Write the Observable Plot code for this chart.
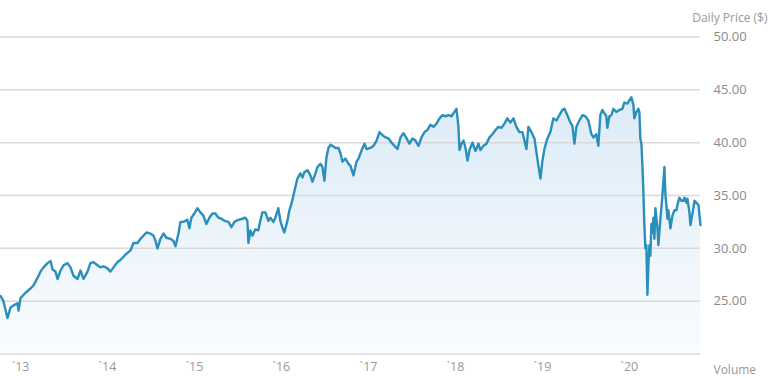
<!DOCTYPE html>
<html>
<head>
<meta charset="utf-8">
<script src="https://cdn.jsdelivr.net/npm/d3@7"></script>
<script src="https://cdn.jsdelivr.net/npm/@observablehq/plot@0.6"></script>
<style>
  html, body { margin: 0; padding: 0; background: #ffffff; }
  #chart { width: 773px; height: 381px; }
</style>
</head>
<body>
<div id="chart"></div>
<script>
// Decimal-year dates and daily prices
const years = [
  2012.770,2012.804,2012.850,2012.885,2012.919,2012.965,2012.977,2013.000,2013.057,2013.115,
  2013.149,2013.195,2013.230,2013.264,2013.310,2013.345,2013.368,2013.402,2013.425,2013.460,
  2013.494,2013.540,2013.575,2013.609,2013.655,2013.690,2013.724,2013.770,2013.804,2013.839,
  2013.885,2013.919,2013.954,2014.000,2014.034,2014.069,2014.115,2014.149,2014.207,2014.264,
  2014.299,2014.345,2014.379,2014.414,2014.448,2014.494,2014.529,2014.552,2014.575,2014.609,
  2014.644,2014.678,2014.724,2014.759,2014.782,2014.816,2014.839,2014.873,2014.919,2014.942,
  2014.965,2015.000,2015.034,2015.069,2015.103,2015.138,2015.172,2015.207,2015.241,2015.276,
  2015.310,2015.345,2015.391,2015.425,2015.460,2015.506,2015.552,2015.586,2015.609,2015.621,
  2015.644,2015.667,2015.701,2015.735,2015.758,2015.781,2015.816,2015.850,2015.873,2015.908,
  2015.931,2015.965,2015.988,2016.011,2016.034,2016.069,2016.092,2016.115,2016.138,2016.161,
  2016.184,2016.218,2016.241,2016.264,2016.299,2016.333,2016.356,2016.391,2016.414,2016.448,
  2016.471,2016.494,2016.517,2016.540,2016.563,2016.586,2016.621,2016.655,2016.678,2016.701,
  2016.735,2016.770,2016.793,2016.827,2016.862,2016.885,2016.931,2016.954,2016.977,2017.023,
  2017.057,2017.092,2017.126,2017.161,2017.195,2017.230,2017.264,2017.299,2017.333,2017.368,
  2017.402,2017.437,2017.471,2017.506,2017.540,2017.575,2017.609,2017.644,2017.678,2017.712,
  2017.747,2017.781,2017.816,2017.850,2017.885,2017.919,2017.954,2017.977,2018.011,2018.034,
  2018.046,2018.069,2018.092,2018.115,2018.138,2018.161,2018.195,2018.230,2018.264,2018.287,
  2018.322,2018.356,2018.391,2018.425,2018.460,2018.494,2018.529,2018.563,2018.597,2018.632,
  2018.666,2018.701,2018.735,2018.770,2018.816,2018.839,2018.873,2018.908,2018.931,2018.954,
  2018.977,2019.000,2019.023,2019.057,2019.092,2019.126,2019.161,2019.195,2019.230,2019.253,
  2019.287,2019.322,2019.345,2019.368,2019.391,2019.425,2019.460,2019.494,2019.529,2019.563,
  2019.586,2019.620,2019.643,2019.666,2019.689,2019.712,2019.735,2019.747,2019.770,2019.793,
  2019.816,2019.850,2019.885,2019.919,2019.942,2019.977,2020.000,2020.023,2020.046,2020.057,
  2020.080,2020.103,2020.115,2020.126,2020.138,2020.149,2020.161,2020.172,2020.184,2020.195,
  2020.207,2020.218,2020.230,2020.241,2020.253,2020.264,2020.276,2020.287,2020.299,2020.322,
  2020.333,2020.356,2020.379,2020.402,2020.414,2020.425,2020.437,2020.448,2020.471,2020.494,
  2020.517,2020.540,2020.551,2020.574,2020.597,2020.620,2020.632,2020.655,2020.666,2020.689,
  2020.701,2020.724,2020.747,2020.770,2020.793,2020.816
];
const prices = [
  25.5,25.0,23.4,24.4,24.6,24.8,24.1,25.3,25.8,26.2,
  26.5,27.2,27.8,28.2,28.6,28.8,28.0,27.8,27.1,27.9,
  28.4,28.6,28.2,27.4,27.1,27.9,27.1,27.8,28.6,28.7,
  28.4,28.2,28.3,28.1,27.8,28.2,28.7,28.9,29.4,29.8,
  30.5,30.5,30.9,31.2,31.5,31.4,31.2,30.7,30.0,30.9,
  31.4,31.0,30.9,30.7,30.2,31.4,32.5,32.5,32.7,31.9,
  32.9,33.3,33.8,33.4,33.1,32.3,32.9,33.3,33.3,32.9,
  32.8,32.6,32.5,32.0,32.5,32.7,32.8,32.9,32.6,30.5,
  31.7,31.2,31.8,31.7,32.6,33.4,33.4,32.6,32.9,32.5,
  32.9,33.8,32.6,32.0,31.5,32.6,33.6,34.2,35.0,35.8,
  36.6,37.1,36.7,37.2,37.4,36.9,36.3,37.1,37.7,38.0,
  37.7,36.4,38.6,39.5,39.8,39.7,39.5,39.5,39.0,38.2,
  38.5,38.0,37.8,36.9,38.2,38.5,39.5,39.9,39.4,39.5,
  39.7,40.2,41.0,40.7,40.5,40.4,40.0,39.7,39.4,40.5,
  40.9,40.4,39.9,40.4,40.2,39.7,40.5,41.0,41.2,41.7,
  41.5,41.8,42.3,42.6,42.5,42.6,42.5,42.8,43.2,41.5,
  39.3,39.9,40.2,39.5,38.3,39.3,40.0,39.2,39.9,39.3,
  39.7,39.9,40.5,40.8,41.2,41.5,41.4,41.8,42.3,41.9,
  42.3,41.5,41.0,41.0,39.4,41.5,41.0,40.4,39.1,37.8,
  36.6,38.3,39.4,40.4,41.0,42.3,42.1,42.6,43.1,43.2,
  42.6,41.9,41.6,39.9,41.5,42.1,42.6,42.5,42.1,40.8,
  40.5,40.8,39.7,42.6,43.1,42.8,42.5,41.4,42.5,42.6,
  43.2,42.9,43.1,43.2,43.8,43.7,44.0,44.3,43.6,42.3,
  42.9,43.2,42.9,40.4,39.9,38.0,35.3,32.2,30.0,30.3,
  25.6,28.4,30.3,29.3,32.3,31.5,32.9,30.9,33.8,31.9,
  30.3,32.8,35.0,37.7,35.0,34.1,32.8,33.6,31.9,33.1,
  33.6,33.6,34.1,34.8,34.5,34.5,34.8,34.3,34.7,33.4,
  32.2,33.3,34.5,34.3,34.1,32.2
];
const yearTicks = [2013, 2014, 2015, 2016, 2017, 2018, 2019, 2020];
const priceTicks = [25, 30, 35, 40, 45, 50];
const gridValues = [20, 25, 30, 35, 40, 45, 50];
const priceDomain = [20, 50];
const dateDomain = [2012.770, 2020.816];

const toDate = (y) => {
  const yr = Math.floor(y);
  const start = Date.UTC(yr, 0, 1);
  const end = Date.UTC(yr + 1, 0, 1);
  return new Date(start + (y - yr) * (end - start));
};

const data = years.map((y, i) => ({date: toDate(y), price: prices[i]}));

const chart = Plot.plot({
  width: 773,
  height: 381,
  marginLeft: 0,
  marginRight: 73,
  marginTop: 36.5,
  marginBottom: 27.5,
  style: {fontFamily: "'Open Sans', sans-serif", fontSize: "12px", background: "#ffffff"},
  x: {type: "utc", domain: dateDomain.map(toDate)},
  y: {domain: priceDomain},
  marks: [
    Plot.areaY(data, {x: "date", y1: priceDomain[0], y2: "price", fill: "url(#priceGrad)"}),
    Plot.ruleY(gridValues, {stroke: "#d9d9d9", strokeWidth: 1.5}),
    Plot.lineY(data, {x: "date", y: "price", stroke: "#2a8fbb", strokeWidth: 2.4, strokeLinejoin: "round"}),
    Plot.axisY({
      anchor: "right", ticks: priceTicks, tickSize: 0, tickPadding: 13,
      tickFormat: d3.format(".2f"), label: null, fill: "#8a8a8a", fontSize: 13
    }),
    Plot.axisX({
      ticks: yearTicks.map(toDate), tickSize: 0, tickPadding: 8,
      tickFormat: (d) => "`" + String(d.getUTCFullYear()).slice(2),
      label: null, fill: "#999999", fontSize: 12.5
    }),
    Plot.text(["Daily Price ($)"], {
      frameAnchor: "top-right", textAnchor: "end", lineAnchor: "middle",
      dx: 67, dy: -18.5, fill: "#999999", fontSize: 12
    }),
    Plot.text(["Volume"], {
      frameAnchor: "bottom-right", textAnchor: "start", lineAnchor: "middle",
      dx: 13, dy: 16.5, fill: "#999999", fontSize: 12
    })
  ]
});

const defs = d3.select(chart).insert("defs", ":first-child");
const grad = defs.append("linearGradient")
  .attr("id", "priceGrad").attr("x1", 0).attr("y1", 0).attr("x2", 0).attr("y2", 1);
grad.append("stop").attr("offset", "0%").attr("stop-color", "#dcebf7");
grad.append("stop").attr("offset", "100%").attr("stop-color", "#fafcfe");

document.getElementById("chart").appendChild(chart);
</script>
</body>
</html>
